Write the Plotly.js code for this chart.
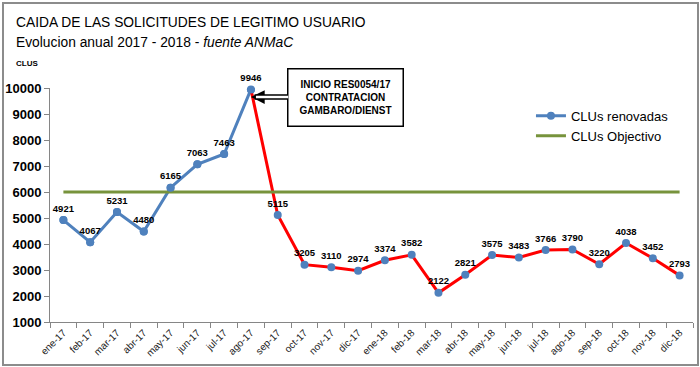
<!DOCTYPE html>
<html><head><meta charset="utf-8">
<script src="https://cdn.plot.ly/plotly-3.0.1.min.js"></script>
<style>
html,body{margin:0;padding:0;background:#fff;}
#wrap{position:relative;width:700px;height:367px;}
#chart{width:700px;height:367px;}
#frame{position:absolute;left:2px;top:2px;width:693px;height:360px;border:2px solid #8c8c8c;pointer-events:none;}
</style></head>
<body>
<div id="wrap"><div id="chart"></div><div id="frame"></div></div>
<script>
const months = ["ene-17","feb-17","mar-17","abr-17","may-17","jun-17","jul-17","ago-17","sep-17","oct-17","nov-17","dic-17",
                "ene-18","feb-18","mar-18","abr-18","may-18","jun-18","jul-18","ago-18","sep-18","oct-18","nov-18","dic-18"];
const renovadas = [4921,4067,5231,4480,6165,7063,7463,9946,5115,3205,3110,2974,
                   3374,3582,2122,2821,3575,3483,3766,3790,3220,4038,3452,2793];
const objetivo = [6000,6000,6000,6000,6000,6000,6000,6000,6000,6000,6000,6000,
                  6000,6000,6000,6000,6000,6000,6000,6000,6000,6000,6000,6000];
const yTicks = [1000,2000,3000,4000,5000,6000,7000,8000,9000,10000];
const yTickText = ["1000","2000","3000","4000","5000","6000","7000","8000","9000","10000"];
const breakIndex = 7; // ago-17
const titleLine1 = "CAIDA DE LAS SOLICITUDES DE LEGITIMO USUARIO";
const titleLine2 = "Evolucion anual 2017 - 2018 - <i>fuente ANMaC</i>";
const boxText = "<b>INICIO RES0054/17<br>CONTRATACION<br>GAMBARO/DIENST</b>";

const BLUE = "#4F81BD", RED = "#FF0000", GREEN = "#77933C";
const F = "Liberation Sans, Arial, sans-serif";
const FN = "Liberation Sans Narrow, Arial Narrow, sans-serif";

const traces = [
  {x: months.slice(0, breakIndex+1), y: renovadas.slice(0, breakIndex+1), type:"scatter", mode:"lines+markers",
   name:"CLUs renovadas", line:{color:BLUE, width:3}, marker:{color:BLUE, size:8}, hoverinfo:"skip"},
  {x: months.slice(breakIndex), y: renovadas.slice(breakIndex), type:"scatter", mode:"lines",
   showlegend:false, line:{color:RED, width:3}, hoverinfo:"skip"},
  {x: months, y: objetivo, type:"scatter", mode:"lines", name:"CLUs Objectivo",
   line:{color:GREEN, width:3}, hoverinfo:"skip"},
  {x: months, y: renovadas, type:"scatter", mode:"markers+text", showlegend:false,
   marker:{color:BLUE, size:8}, text: renovadas.map(String), textposition:"top center",
   textfont:{family:F, size:9.5, color:"#000", weight:"bold"}, cliponaxis:false, hoverinfo:"skip"}
];

const boxAnn = {x: months[breakIndex], y: 9653, xref:"x", yref:"y", text: boxText, showarrow:true,
     ax: 95, ay: 0, bgcolor:"#fff", bordercolor:"#000", borderwidth:1.5, borderpad:2, width:110, height:52,
     font:{family:FN, size:10, color:"#000"}};

const layout = {
  width:700, height:367,
  margin:{l:50, r:7, t:88, b:44.5},
  paper_bgcolor:"#fff", plot_bgcolor:"#fff",
  font:{family:F, color:"#000"},
  showlegend:true,
  legend:{x:0.748, y:0.945, xanchor:"left", yanchor:"top", font:{family:F, size:13, color:"#000"},
          bgcolor:"rgba(0,0,0,0)", tracegroupgap:0},
  xaxis:{type:"category", range:[-0.5, 23.5], tickangle:-45, ticks:"outside", tickson:"boundaries",
         ticklen:5, tickcolor:"#868686", showline:true, linecolor:"#868686", linewidth:1,
         showgrid:false, zeroline:false, tickfont:{family:F, size:10, color:"#222"}},
  yaxis:{range:[1000,10000], tickvals:yTicks, ticktext:yTickText, ticks:"outside", ticklen:5, tickcolor:"#868686",
         showline:true, linecolor:"#868686", linewidth:1, showgrid:false, zeroline:false,
         tickfont:{family:F, size:13, color:"#000", weight:"bold"}},
  annotations:[
    {xref:"paper", yref:"paper", x:-36/643, y:(322.5-22)/234.5, xanchor:"left", yanchor:"middle",
     text:titleLine1, showarrow:false, font:{family:F, size:13.8, color:"#000"}},
    {xref:"paper", yref:"paper", x:-36/643, y:(322.5-42)/234.5, xanchor:"left", yanchor:"middle",
     text:titleLine2, showarrow:false, font:{family:F, size:13.8, color:"#000"}},
    {xref:"paper", yref:"paper", x:-36/643, y:(322.5-63)/234.5, xanchor:"left", yanchor:"middle",
     text:"<b>CLUS</b>", showarrow:false, font:{family:F, size:8, color:"#000"}},
    Object.assign({}, boxAnn, {arrowhead:2, arrowsize:0.5, arrowwidth:5.5, arrowcolor:"#000"}),
    Object.assign({}, boxAnn, {arrowhead:0, arrowwidth:2.5, arrowcolor:"#fff", standoff:5})
  ]
};

Plotly.newPlot("chart", traces, layout, {displayModeBar:false, staticPlot:true});
</script>
</body></html>
